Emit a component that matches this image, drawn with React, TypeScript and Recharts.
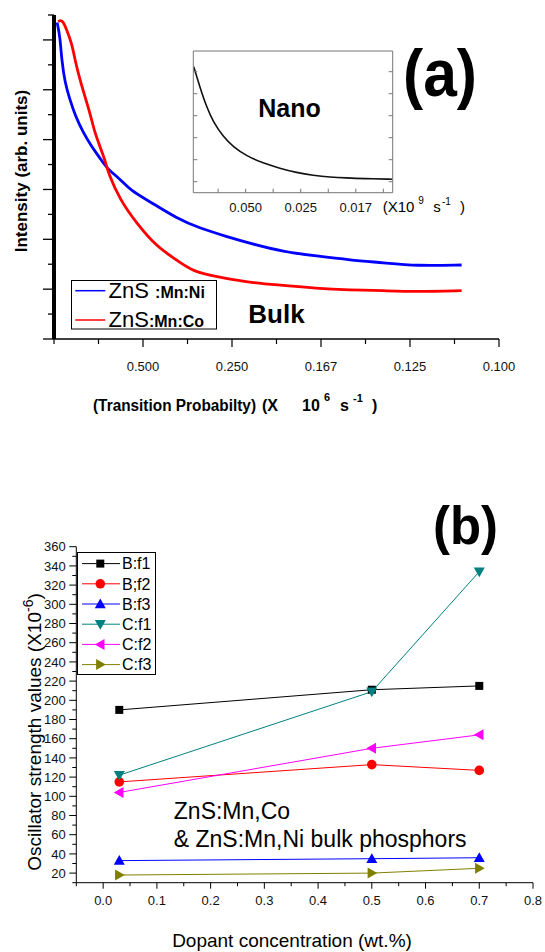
import { LineChart, Line, XAxis, YAxis, Legend } from 'recharts';

const FONT = '"Liberation Sans", Arial, Helvetica, sans-serif';

// (a) bulk decay, x = delay (us); tick labels are the matching 1/t values
const niTime = [0.07, 0.135, 0.173, 0.247, 0.36, 0.472, 0.658, 0.847, 1.034, 1.184, 1.483, 1.708, 2.157, 2.757, 3.281, 3.881, 4.404, 5.153, 5.903, 6.652, 7.4, 8.15, 9.16];
const niIntensity = [12.7, 12.13, 11.2, 10.27, 9.59, 8.99, 8.27, 7.72, 7.26, 6.85, 6.42, 5.98, 5.51, 4.84, 4.44, 4.11, 3.84, 3.5, 3.33, 3.17, 3.06, 2.93, 2.97];
const coTime = [0.097, 0.146, 0.209, 0.285, 0.398, 0.472, 0.584, 0.697, 0.809, 0.921, 1.034, 1.146, 1.22, 1.483, 1.858, 2.308, 2.757, 3.13, 3.656, 4.254, 5.004, 5.903, 6.652, 7.4, 8.15, 9.16];
const coIntensity = [12.73, 12.8, 12.73, 12.4, 11.87, 11.2, 10.39, 9.72, 9.06, 8.25, 7.72, 7.18, 6.65, 5.58, 4.64, 3.7, 3.17, 2.7, 2.5, 2.3, 2.17, 2.03, 1.97, 1.94, 1.9, 1.94];
const bulkTicks = [0, 1, 2, 3, 4, 5, 6, 7, 8, 9, 10];
const bulkTickLabels = ['', '', '0.500', '', '0.250', '', '0.167', '', '0.125', '', '0.100'];
const bulkYTicks = [0, 1, 2, 3, 4, 5, 6, 7, 8, 9, 10, 11, 12, 13];
const bulkNames = ['ZnS :Mn:Ni', 'ZnS:Mn:Co'];
const bulkColors = ['#0000ff', '#ff0000'];

// inset: nano sample, x = delay (ns)
const nanoTime = [1.16, 3.35, 5.78, 8.18, 11.82, 15.45, 20.33, 26.36, 32.44, 38.51, 44.55, 50.62, 56.69, 62.73, 73.3];
const nanoIntensity = [5.73, 4.82, 3.91, 3.23, 2.55, 2.09, 1.67, 1.34, 1.11, 0.91, 0.79, 0.71, 0.67, 0.64, 0.61];
const nanoTicks = [10, 20, 30, 40, 50, 60, 70];
const nanoTickLabels = ['', '0.050', '', '0.025', '', '0.017', ''];
const nanoYTicks = [0.5, 1.5, 2.5, 3.5, 4.5, 5.5];

// (b) oscillator strengths
const dopant = [0.03, 0.5, 0.7];
const bF1 = [190, 211, 215];
const bF2 = [115, 133, 127];
const bF3 = [33, 35, 36];
const cF1 = [122, 209, 334];
const cF2 = [104, 150, 164];
const cF3 = [18, 20, 25];
const seriesKeys = ['bF1', 'bF2', 'bF3', 'cF1', 'cF2', 'cF3'];
const seriesNames = ['B:f1', 'B;f2', 'B:f3', 'C:f1', 'C:f2', 'C:f3'];
const seriesColors = ['#000000', '#ff0000', '#0000ff', '#008080', '#ff00ff', '#808000'];
const seriesShapes = ['square', 'circle', 'up', 'down', 'left', 'right'];
const dopantTicks = [-0.05, 0, 0.05, 0.1, 0.15, 0.2, 0.25, 0.3, 0.35, 0.4, 0.45, 0.5, 0.55, 0.6, 0.65, 0.7, 0.75, 0.8];
const strengthTicks = [10, 20, 30, 40, 50, 60, 70, 80, 90, 100, 110, 120, 130, 140, 150, 160, 170, 180, 190, 200, 210, 220, 230, 240, 250, 260, 270, 280, 290, 300, 310, 320, 330, 340, 350, 360];

const zip = (xs: number[], ys: number[]) => xs.map((t, i) => ({ t, v: ys[i] }));
const niData = zip(niTime, niIntensity);
const coData = zip(coTime, coIntensity);
const nanoData = zip(nanoTime, nanoIntensity);
const columns: Record<string, number[]> = { bF1, bF2, bF3, cF1, cF2, cF3 };
const strengthData = dopant.map((x, i) => {
  const row: any = { x };
  seriesKeys.forEach(k => { row[k] = columns[k][i]; });
  return row;
});

function Marker({ cx, cy, shape, color }: any) {
  const s = 5.5;
  const h = 4.2;
  if (cx == null || cy == null) return null;
  switch (shape) {
    case 'square': return <rect x={cx - 4} y={cy - 4} width={8} height={8} fill={color} />;
    case 'circle': return <circle cx={cx} cy={cy} r={4.8} fill={color} />;
    case 'up': return <polygon points={`${cx},${cy - s} ${cx - s},${cy + h} ${cx + s},${cy + h}`} fill={color} />;
    case 'down': return <polygon points={`${cx},${cy + s} ${cx - s},${cy - h} ${cx + s},${cy - h}`} fill={color} />;
    case 'left': return <polygon points={`${cx - s},${cy} ${cx + h},${cy - s} ${cx + h},${cy + s}`} fill={color} />;
    default: return <polygon points={`${cx + s},${cy} ${cx - h},${cy - s} ${cx - h},${cy + s}`} fill={color} />;
  }
}

const BulkXTick = ({ x, y, payload }: any) => {
  const lab = bulkTickLabels[bulkTicks.indexOf(payload.value)];
  return (
    <g>
      <line x1={x} x2={x} y1={y} y2={y + (lab ? 8 : 5)} stroke="#000" strokeWidth={1.2} />
      {lab && <text x={x} y={y + 31.5} textAnchor="middle" fontSize={13} fontFamily={FONT} fill="#111">{lab}</text>}
    </g>
  );
};

const BulkYTick = ({ x, y, payload }: any) => (
  <line x1={x - (payload.value % 2 === 0 ? 11 : 6)} x2={x} y1={y} y2={y} stroke="#000" strokeWidth={1.3} />
);

const NanoXTick = ({ x, y, payload }: any) => {
  const lab = nanoTickLabels[nanoTicks.indexOf(payload.value)];
  return (
    <g>
      <line x1={x} x2={x} y1={y} y2={y - 4} stroke="#777" />
      {lab && <text x={x} y={y + 19} textAnchor="middle" fontSize={13} fontFamily={FONT} fill="#111">{lab}</text>}
    </g>
  );
};
const NanoLeftTick = ({ x, y }: any) => <line x1={x} x2={x + 4} y1={y} y2={y} stroke="#777" />;
const NanoRightTick = ({ x, y }: any) => <line x1={x} x2={x - 4} y1={y} y2={y} stroke="#777" />;

const isMajor = (v: number, step: number) => Math.abs(v / step - Math.round(v / step)) < 1e-6;

const StrengthXTick = ({ x, y, payload }: any) => {
  const major = isMajor(payload.value, 0.1);
  return (
    <g>
      <line x1={x} x2={x} y1={y} y2={y + (major ? 6 : 3.5)} stroke="#000" />
      {major && <text x={x} y={y + 22.6} textAnchor="middle" fontSize={13} fontFamily={FONT} fill="#111">{payload.value.toFixed(1)}</text>}
    </g>
  );
};
const StrengthYTick = ({ x, y, payload }: any) => {
  const major = payload.value % 20 === 0;
  return (
    <g>
      <line x1={x - (major ? 7 : 4)} x2={x} y1={y} y2={y} stroke="#000" />
      {major && <text x={x - 10.5} y={y + 4.6} textAnchor="end" fontSize={13} fontFamily={FONT} fill="#111">{payload.value}</text>}
    </g>
  );
};

const BulkLegend = () => (
  <svg width={150} height={52} style={{ display: 'block', overflow: 'visible' }}>
    <rect x={0.5} y={0.5} width={145} height={48.5} fill="#fff" stroke="#000" strokeWidth={1} />
    {bulkNames.map((name, i) => {
      const cy = 10.7 + i * 29.3;
      const cut = name.indexOf(':');
      return (
        <g key={name}>
          <line x1={4.3} x2={34.3} y1={cy} y2={cy} stroke={bulkColors[i]} strokeWidth={1.5} />
          <text x={37.6} y={cy + 7.2} fontFamily={FONT} fill="#000">
            <tspan fontSize={22}>{name.slice(0, cut)}</tspan>
            <tspan fontSize={16} fontWeight="bold">{name.slice(cut)}</tspan>
          </text>
        </g>
      );
    })}
  </svg>
);

const StrengthLegend = () => (
  <svg width={79} height={123} style={{ display: 'block', overflow: 'visible' }}>
    <rect x={0.5} y={0.5} width={78} height={122} fill="#fff" stroke="#000" strokeWidth={1} />
    {seriesNames.map((name, i) => {
      const cy = 11.6 + i * 20.2;
      return (
        <g key={name}>
          <line x1={5} x2={43} y1={cy} y2={cy} stroke={seriesColors[i]} />
          <Marker cx={23.3} cy={cy} shape={seriesShapes[i]} color={seriesColors[i]} />
          <text x={45} y={cy + 5.8} fontSize={16} fontFamily={FONT} fill="#000">{name}</text>
        </g>
      );
    })}
  </svg>
);

export default function App() {
  return (
    <div style={{ position: 'absolute', left: 0, top: 0, width: 545, height: 952, background: '#fff', fontFamily: FONT }}>
      <div style={{ position: 'absolute', left: 0, top: 0 }}>
        <LineChart width={545} height={430} margin={{ top: 15, right: 46, bottom: 71, left: 44 }}>
          <XAxis type="number" dataKey="t" domain={[0, 10]} ticks={bulkTicks} interval={0} allowDataOverflow height={20}
            tickSize={0} tickMargin={0} tickLine={false} axisLine={{ stroke: '#000', strokeWidth: 1.5 }} tick={(p: any) => <BulkXTick {...p} />} />
          <YAxis type="number" domain={[0, 13]} ticks={bulkYTicks} interval={0} allowDataOverflow width={10}
            tickSize={0} tickMargin={0} tickLine={false} axisLine={{ stroke: '#000', strokeWidth: 4 }} tick={(p: any) => <BulkYTick {...p} />} />
          <Legend layout="vertical" align="center" verticalAlign="middle" content={() => <BulkLegend />}
            wrapperStyle={{ position: 'absolute', left: 70.7, top: 280, width: 150, height: 52 }} />
          <Line data={niData} dataKey="v" name={bulkNames[0]} type="basis" stroke={bulkColors[0]} strokeWidth={2.8} dot={false} isAnimationActive={false} />
          <Line data={coData} dataKey="v" name={bulkNames[1]} type="basis" stroke={bulkColors[1]} strokeWidth={2.8} dot={false} isAnimationActive={false} />
        </LineChart>
      </div>

      <div style={{ position: 'absolute', left: 180, top: 40 }}>
        <LineChart width={230} height={190} margin={{ top: 6, right: 12.3, bottom: 32.3, left: 8.3 }}>
          <XAxis type="number" dataKey="t" domain={[1, 73.4]} ticks={nanoTicks} interval={0} allowDataOverflow height={5}
            tickSize={0} tickMargin={0} tickLine={false} axisLine={{ stroke: '#777' }} tick={(p: any) => <NanoXTick {...p} />} />
          <XAxis xAxisId="top" orientation="top" type="number" domain={[1, 73.4]} allowDataOverflow height={5} tick={false} axisLine={{ stroke: '#777' }} />
          <YAxis type="number" domain={[0, 6.44]} ticks={nanoYTicks} interval={0} allowDataOverflow width={5}
            tickSize={0} tickMargin={0} tickLine={false} axisLine={{ stroke: '#777' }} tick={(p: any) => <NanoLeftTick {...p} />} />
          <YAxis yAxisId="r" orientation="right" type="number" domain={[0, 6.44]} ticks={nanoYTicks} interval={0} allowDataOverflow width={5}
            tickSize={0} tickMargin={0} tickLine={false} axisLine={{ stroke: '#777' }} tick={(p: any) => <NanoRightTick {...p} />} />
          <Line data={nanoData} dataKey="v" type="basis" stroke="#111" strokeWidth={1.6} dot={false} isAnimationActive={false} />
        </LineChart>
      </div>

      <div style={{ position: 'absolute', left: 0, top: 500 }}>
        <LineChart width={545} height={452} data={strengthData} margin={{ top: 46.7, right: 12, bottom: 39.3, left: 36.3 }}>
          <XAxis type="number" dataKey="x" domain={[-0.05, 0.8]} ticks={dopantTicks} interval={0} allowDataOverflow height={30}
            tickSize={0} tickMargin={0} tickLine={false} axisLine={{ stroke: '#000' }} tick={(p: any) => <StrengthXTick {...p} />} />
          <YAxis type="number" domain={[10, 360]} ticks={strengthTicks} interval={0} allowDataOverflow width={40}
            tickSize={0} tickMargin={0} tickLine={false} axisLine={{ stroke: '#000' }} tick={(p: any) => <StrengthYTick {...p} />} />
          <Legend layout="vertical" align="center" verticalAlign="middle" content={() => <StrengthLegend />}
            wrapperStyle={{ position: 'absolute', left: 76.7, top: 51.7, width: 79, height: 123 }} />
          {seriesKeys.map((k, i) => (
            <Line key={k} dataKey={k} name={seriesNames[i]} type="linear" stroke={seriesColors[i]} strokeWidth={1}
              isAnimationActive={false} activeDot={false}
              dot={(p: any) => <Marker key={`${k}-${p.index}`} cx={p.cx} cy={p.cy} shape={seriesShapes[i]} color={seriesColors[i]} />} />
          ))}
        </LineChart>
      </div>

      <svg width={545} height={952} style={{ position: 'absolute', left: 0, top: 0, pointerEvents: 'none' }} fontFamily={FONT}>
        <text x={403} y={96} fontSize={66} fontWeight="bold" textLength={74} lengthAdjust="spacingAndGlyphs">(a)</text>
        <text x={258.3} y={116.7} fontSize={25} fontWeight="bold">Nano</text>
        <text x={248.3} y={323.3} fontSize={26} fontWeight="bold">Bulk</text>
        <text transform="translate(26.5,171) rotate(-90)" textAnchor="middle" fontSize={17} fontWeight="bold">Intensity (arb. units)</text>
        <g fontSize={16} fontWeight="bold">
          <text x={93} y={411} textLength={163} lengthAdjust="spacingAndGlyphs">(Transition Probabilty)</text>
          <text x={262} y={411}>(X</text>
          <text x={302} y={411}>10</text>
          <text x={324} y={401} fontSize={11}>6</text>
          <text x={340} y={411}>s</text>
          <text x={353} y={402} fontSize={11}>-1</text>
          <text x={372} y={411}>)</text>
        </g>
        <g fontSize={15}>
          <text x={382.7} y={212}>(X10</text>
          <text x={418.3} y={204} fontSize={10}>9</text>
          <text x={433.3} y={212}>s</text>
          <text x={442} y={205} fontSize={10}>-1</text>
          <text x={460} y={212}>)</text>
        </g>
        <text x={433} y={543.7} fontSize={54} fontWeight="bold" textLength={65} lengthAdjust="spacingAndGlyphs">(b)</text>
        <text x={173.8} y={819} fontSize={23}>ZnS:Mn,Co</text>
        <text x={173.8} y={847.3} fontSize={23}>&amp; ZnS:Mn,Ni bulk phosphors</text>
        <text transform="translate(40.5,732) rotate(-90)" textAnchor="middle" fontSize={19}>
          Oscillator strength values (X10<tspan fontSize={14} dy={-8}>-6</tspan><tspan dy={8}>)</tspan>
        </text>
        <text x={292} y={946.5} textAnchor="middle" fontSize={19}>Dopant concentration (wt.%)</text>
      </svg>
    </div>
  );
}
